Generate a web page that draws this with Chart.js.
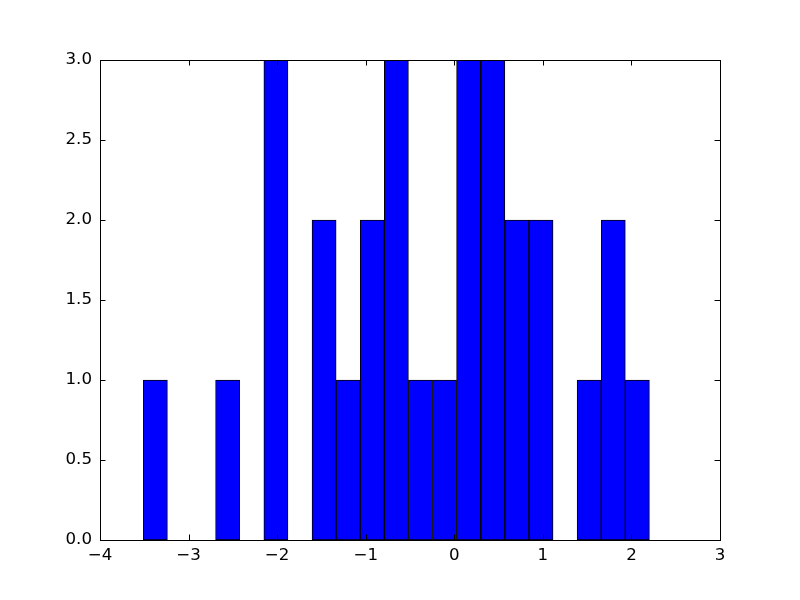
<!DOCTYPE html>
<html>
<head>
<meta charset="utf-8">
<script src="https://cdn.jsdelivr.net/npm/chart.js@4"></script>
<style>
  html, body { margin: 0; padding: 0; background: #fff; }
  #wrap { width: 800px; height: 600px; }
</style>
</head>
<body>
<div id="wrap"><canvas id="hist" width="800" height="600"></canvas></div>
<script>
// histogram bins (centres) and counts
var binCenters = [-3.375, -3.103, -2.831, -2.559, -2.286, -2.014, -1.742, -1.470, -1.198, -0.926,
                  -0.654, -0.382, -0.110, 0.162, 0.435, 0.707, 0.979, 1.251, 1.523, 1.795, 2.067];
var counts     = [1, 0, 0, 1, 0, 3, 0, 2, 1, 2, 3, 1, 1, 3, 3, 2, 2, 0, 1, 2, 1];
var xTicks = [-4, -3, -2, -1, 0, 1, 2, 3];
var yTicks = [0, 0.5, 1, 1.5, 2, 2.5, 3];

var points = binCenters.map(function (c, i) { return {x: c, y: counts[i]}; });

// axes frame + inward ticks on all four sides, matplotlib classic look
var frame = {
    id: 'frame',
    afterDatasetsDraw: function (chart) {
        var ctx = chart.ctx, a = chart.chartArea;
        var sx = chart.scales.x, sy = chart.scales.y;
        var len = 5.5;
        ctx.save();
        ctx.strokeStyle = '#000';
        ctx.lineWidth = 1;
        ctx.beginPath();
        xTicks.forEach(function (t) {
            var px = Math.round(sx.getPixelForValue(t)) + 0.5;
            ctx.moveTo(px, a.bottom); ctx.lineTo(px, a.bottom - len);
            ctx.moveTo(px, a.top); ctx.lineTo(px, a.top + len);
        });
        yTicks.forEach(function (t) {
            var py = Math.round(sy.getPixelForValue(t)) + 0.5;
            ctx.moveTo(a.left, py); ctx.lineTo(a.left + len, py);
            ctx.moveTo(a.right, py); ctx.lineTo(a.right - len, py);
        });
        ctx.stroke();
        ctx.strokeRect(a.left + 0.5, a.top + 0.5, a.right - a.left, a.bottom - a.top);
        ctx.restore();
    }
};

var ctx = document.getElementById('hist').getContext('2d');
new Chart(ctx, {
    type: 'bar',
    data: {
        datasets: [{
            data: points,
            backgroundColor: '#0000ff',
            borderColor: '#000000',
            borderWidth: 1,
            borderSkipped: false,
            categoryPercentage: 1.0,
            barPercentage: 1.0
        }]
    },
    options: {
        responsive: false,
        animation: false,
        events: [],
        layout: { padding: { left: 0, right: 80, top: 60, bottom: 0 } },
        plugins: { legend: { display: false }, tooltip: { enabled: false } },
        scales: {
            x: {
                type: 'linear',
                offset: false,
                min: -4, max: 3,
                afterBuildTicks: function (s) { s.ticks = xTicks.map(function (v) { return {value: v}; }); },
                afterFit: function (s) { s.height = 60; },
                grid: { display: false, offset: false, drawTicks: false },
                border: { display: false },
                ticks: {
                    color: '#000',
                    font: { family: 'DejaVu Sans', size: 16.67 },
                    padding: 6,
                    maxRotation: 0,
                    callback: function (v) { return String(v).replace('-', '\u2212'); }
                }
            },
            y: {
                min: 0, max: 3,
                afterBuildTicks: function (s) { s.ticks = yTicks.map(function (v) { return {value: v}; }); },
                afterFit: function (s) { s.width = 100; },
                grid: { display: false, drawTicks: false },
                border: { display: false },
                ticks: {
                    color: '#000',
                    font: { family: 'DejaVu Sans', size: 16.67 },
                    padding: 8,
                    callback: function (v) { return v.toFixed(1); }
                }
            }
        }
    },
    plugins: [frame]
});
</script>
</body>
</html>
